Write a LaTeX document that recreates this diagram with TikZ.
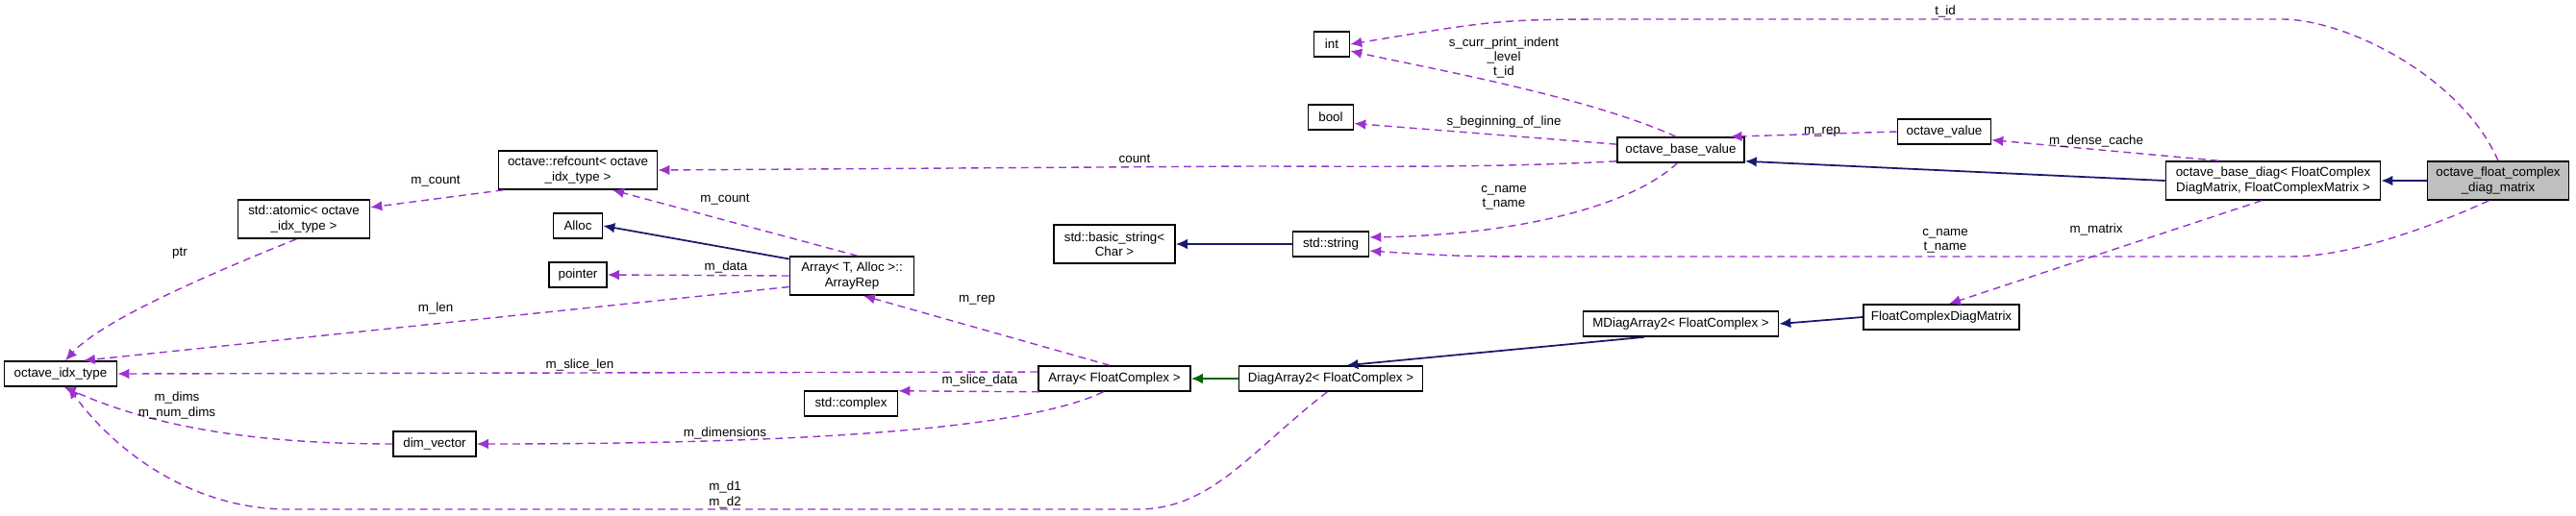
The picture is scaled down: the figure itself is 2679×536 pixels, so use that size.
\documentclass[tikz,border=0pt]{standalone}
\usepackage{fontspec}
\setmainfont{Liberation Sans}
\usetikzlibrary{arrows.meta}
\definecolor{mem}{HTML}{9A32CD}
\definecolor{inh}{HTML}{191970}
\definecolor{pub}{HTML}{006400}
\definecolor{gfill}{HTML}{BFBFBF}
\begin{document}
\begin{tikzpicture}[x=0.01cm,y=-0.01cm,
  every node/.style={font=\fontsize{3.8}{4.3}\selectfont},
  box/.style={draw=black,line width=0.45pt,fill=white,align=center,inner sep=0.5pt,minimum height=0.26cm},
  box2/.style={box,minimum height=0.40cm},
  lab/.style={align=center,inner sep=0.5pt},
  m/.style={draw=mem,line width=0.4pt,dash pattern=on 2.2pt off 1.5pt,-{Latex[length=3.4pt,width=3pt]}},
  ih/.style={draw=inh,line width=0.5pt,-{Latex[length=3.4pt,width=3pt]}},
  gr/.style={draw=pub,line width=0.5pt,-{Latex[length=3.4pt,width=3pt]}}]
\useasboundingbox (0,0) rectangle (2679,536);
% nodes
\node[box,minimum width=0.37cm] (int) at (1385,46) {int};
\node[box,minimum width=0.47cm] (bool) at (1384,122) {bool};
\node[box,minimum width=1.32cm] (obv) at (1748,156) {octave\_base\_value};
\node[box,minimum width=0.97cm] (ov) at (2022,137) {octave\_value};
\node[box2,minimum width=2.23cm] (obd) at (2364,188) {octave\_base\_diag\textless{} FloatComplex\\DiagMatrix, FloatComplexMatrix \textgreater{}};
\node[box2,minimum width=1.47cm,fill=gfill] (top) at (2598,188) {octave\_float\_complex\\\_diag\_matrix};
\node[box,minimum width=0.79cm] (str) at (1384,254) {std::string};
\node[box2,minimum width=1.26cm] (bstr) at (1159,254) {std::basic\_string\textless{}\\Char \textgreater{}};
\node[box2,minimum width=1.65cm] (rc) at (601,177) {octave::refcount\textless{} octave\\\_idx\_type \textgreater{}};
\node[box2,minimum width=1.37cm] (at) at (316,228) {std::atomic\textless{} octave\\\_idx\_type \textgreater{}};
\node[box,minimum width=0.51cm] (alloc) at (601,235) {Alloc};
\node[box,minimum width=0.60cm] (ptr) at (601,286) {pointer};
\node[box2,minimum width=1.29cm] (rep) at (886,287) {Array\textless{} T, Alloc \textgreater{}::\\ArrayRep};
\node[box,minimum width=1.17cm] (idx) at (63,389) {octave\_idx\_type};
\node[box,minimum width=0.97cm] (cpx) at (885,420) {std::complex};
\node[box,minimum width=0.86cm] (dv) at (452,462) {dim\_vector};
\node[box,minimum width=1.58cm] (arr) at (1159,394) {Array\textless{} FloatComplex \textgreater{}};
\node[box,minimum width=1.91cm] (da) at (1384,394) {DiagArray2\textless{} FloatComplex \textgreater{}};
\node[box,minimum width=2.03cm] (mda) at (1748,337) {MDiagArray2\textless{} FloatComplex \textgreater{}};
\node[box,minimum width=1.62cm] (fcdm) at (2019,330) {FloatComplexDiagMatrix};
% coordinates
\coordinate (c1) at (2373,20); \coordinate (c2) at (1696,20);
\coordinate (c3) at (2382,267); \coordinate (c4) at (1652,267);
\coordinate (c5) at (1183,530); \coordinate (c6) at (300,530);
% edges
\draw[m] (top.north) .. controls (2560,80) and (2440,20) .. (c1) -- (c2) .. controls (1560,20) .. (int.east);
\draw[m] (obv.110) .. controls (1650,100) and (1480,70) .. (int.-20);
\draw[m] (obv.175) -- (bool.-15);
\draw[m] (obv.190) .. controls (1550,175) and (1400,173) .. (1300,173) -- (rc.east);
\draw[m] (ov.west) -- (obv.15);
\draw[m] (obd.160) -- (ov.-10);
\draw[ih] (obd.west) -- (obv.-10);
\draw[ih] (top.west) -- (obd.east);
\draw[m] (obv.-105) .. controls (1690,220) and (1560,245) .. (str.10);
\draw[m] (top.-115) .. controls (2520,240) and (2440,267) .. (c3) -- (c4) .. controls (1520,267) .. (str.-10);
\draw[m] (obd.-120) -- (fcdm.60);
\draw[ih] (fcdm.west) -- (mda.east);
\draw[ih] (mda.-160) -- (da.40);
\draw[gr] (da.west) -- (arr.east);
\draw[ih] (str.west) -- (bstr.east);
\draw[m] (arr.110) -- (rep.-60);
\draw[m] (arr.-170) -- (cpx.15);
\draw[m] (arr.-130) .. controls (1060,450) and (800,462) .. (dv.east);
\draw[m] (arr.175) -- (idx.east);
\draw[m] (da.-105) .. controls (1300,470) and (1260,530) .. (c5) -- (c6) .. controls (200,530) and (120,470) .. (idx.-60);
\draw[m] (dv.west) .. controls (250,462) and (150,440) .. (idx.-75);
\draw[m] (rep.-170) -- (idx.30);
\draw[m] (rep.west) -- (ptr.east);
\draw[ih] (rep.165) -- (alloc.east);
\draw[m] (rep.75) -- (rc.-30);
\draw[m] (rc.-165) -- (at.10);
\draw[m] (at.-110) .. controls (180,300) and (100,340) .. (idx.70);
% labels
\node[lab] (l1) at (2023,12) {t\_id};
\node[lab] (l2) at (1564,60) {s\_curr\_print\_indent\\\_level\\t\_id};
\node[lab] (l3) at (1564,127) {s\_beginning\_of\_line};
\node[lab] (l4) at (1180,165) {count};
\node[lab] (l5) at (1895,137) {m\_rep};
\node[lab] (l6) at (2180,147) {m\_dense\_cache};
\node[lab] (l7) at (1564,206) {c\_name\\t\_name};
\node[lab] (l8) at (2023,251) {c\_name\\t\_name};
\node[lab] (l9) at (2180,239) {m\_matrix};
\node[lab] (l10) at (1016,312) {m\_rep};
\node[lab] (l11) at (1019,396) {m\_slice\_data};
\node[lab] (l12) at (754,451) {m\_dimensions};
\node[lab] (l13) at (603,380) {m\_slice\_len};
\node[lab] (l14) at (754,515) {m\_d1\\m\_d2};
\node[lab] (l15) at (184,422) {m\_dims\\m\_num\_dims};
\node[lab] (l16) at (453,321) {m\_len};
\node[lab] (l17) at (755,278) {m\_data};
\node[lab] (l18) at (754,207) {m\_count};
\node[lab] (l19) at (453,189) {m\_count};
\node[lab] (l20) at (187,264) {ptr};
\end{tikzpicture}
\end{document}
